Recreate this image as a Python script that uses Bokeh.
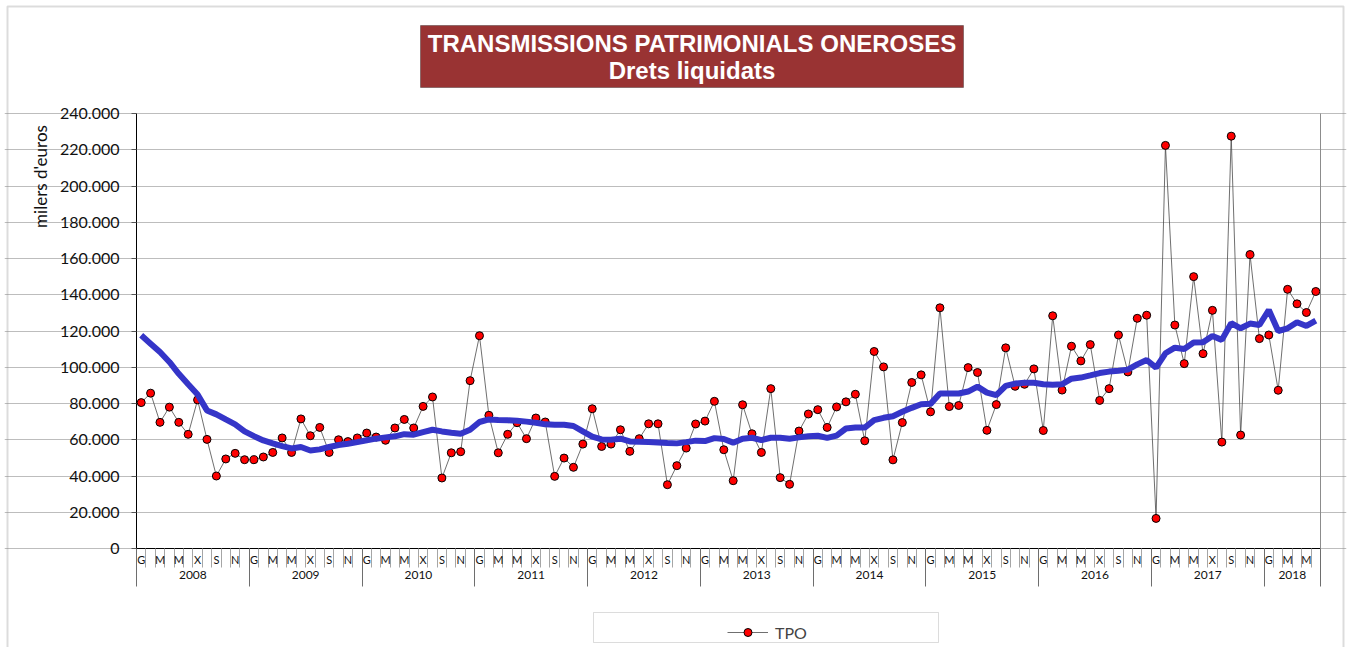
import math
from bokeh.plotting import figure
from bokeh.models import (Range1d, LinearAxis, FixedTicker, Label, BoxAnnotation,
                          Legend, LegendItem, ColumnDataSource, Grid)
from bokeh.embed import file_html
from bokeh.resources import INLINE

# ---------------- data (milers d'euros, read in thousands) ----------------
years = ["2008", "2009", "2010", "2011", "2012", "2013", "2014", "2015", "2016", "2017", "2018"]
month_labels = ["G", "", "M", "", "M", "", "X", "", "S", "", "N", ""]

tpo_k = [
    80.5, 85.7, 69.6, 78.0, 69.6, 63.0, 82.0, 60.2, 40.0, 49.4, 52.5, 49.0,      # 2008
    49.0, 50.5, 53.0, 61.0, 53.0, 71.5, 62.2, 66.8, 53.0, 60.0, 59.0, 61.0,      # 2009
    63.7, 61.5, 59.7, 66.5, 71.2, 66.5, 78.4, 83.6, 38.9, 52.8, 53.4, 92.6,      # 2010
    117.4, 73.5, 52.8, 63.0, 69.4, 60.6, 72.0, 69.8, 39.8, 49.9, 44.8, 57.6,     # 2011
    77.1, 56.3, 57.6, 65.5, 53.6, 60.6, 68.8, 68.8, 35.2, 45.7, 55.4, 68.7,      # 2012
    70.3, 81.2, 54.5, 37.4, 79.3, 63.3, 53.0, 88.2, 39.1, 35.4, 64.8, 74.2,      # 2013
    76.6, 66.8, 78.1, 80.9, 85.1, 59.4, 108.7, 100.2, 48.9, 69.5, 91.6, 95.8,    # 2014
    75.4, 132.8, 78.3, 78.9, 99.8, 97.1, 65.2, 79.4, 110.7, 89.5, 90.6, 99.1,    # 2015
    65.1, 128.4, 87.4, 111.6, 103.5, 112.5, 81.7, 88.2, 117.8, 97.4, 127.0, 128.7,  # 2016
    16.6, 222.4, 123.3, 102.0, 150.0, 107.5, 131.4, 58.7, 227.5, 62.6, 162.2, 115.8,  # 2017
    117.8, 87.3, 143.0, 135.0, 130.2, 141.8,                                     # 2018
]

trend_k = [
    117.6, 113.0, 108.4, 102.9, 96.4, 90.6, 85.0, 76.2, 74.0, 71.2, 68.5, 64.6,
    62.0, 59.6, 58.0, 56.5, 55.2, 56.0, 54.1, 54.7, 56.0, 57.1, 57.8, 58.7,
    59.7, 60.6, 61.3, 61.9, 63.1, 62.8, 64.2, 65.5, 64.6, 63.9, 63.3, 65.5,
    69.8, 71.2, 70.9, 70.7, 70.5, 70.0, 69.4, 68.5, 68.3, 68.3, 67.6, 64.6,
    61.7, 60.2, 60.0, 60.6, 59.1, 58.9, 58.7, 58.5, 58.2, 58.0, 58.7, 59.5,
    59.3, 60.9, 60.4, 58.4, 60.6, 61.1, 59.8, 61.1, 61.1, 60.6, 61.3, 61.9,
    62.2, 61.0, 62.3, 66.2, 66.7, 66.7, 70.8, 72.1, 73.0, 75.4, 77.6, 79.6,
    79.8, 85.5, 85.5, 85.5, 86.6, 89.3, 86.0, 84.6, 89.7, 91.0, 91.4, 91.4,
    90.6, 90.3, 90.6, 93.7, 94.3, 95.5, 96.8, 97.6, 98.1, 98.7, 101.6, 104.0,
    99.8, 107.7, 110.8, 110.1, 113.6, 113.8, 117.3, 115.1, 124.3, 121.5, 124.1, 123.3,
    131.6, 120.0, 121.5, 124.8, 122.8, 125.7,
]

y_ticks = list(range(0, 240001, 20000))

# ---------------- layout (picture pixels) ----------------
W, H = 1350, 647
BL, BT, BR = 7, 6, 1343                 # outer chart border
PL, PR, PT, PB = 136, 1320, 113, 548    # plot area

n = len(tpo_k)
xs = list(range(n))
X0, X1 = -0.5, n - 0.5
Y0, Y1 = 0, 240000
kx = (X1 - X0) / (PR - PL)
ky = (Y1 - Y0) / (PB - PT)


def dx(px):  # picture x pixel -> data x
    return X0 + (px - PL) * kx


def dy(py):  # picture y pixel -> data y
    return Y0 + (PB - py) * ky


FL, FT, FR = BL - 3, BT - 3, BR + 3     # frame slightly outside the border
p = figure(width=W, height=H,
           x_range=Range1d(dx(FL), dx(FR)), y_range=Range1d(dy(H), dy(FT)),
           x_axis_type=None, y_axis_type=None, output_backend="svg", toolbar_location=None,
           min_border_left=FL, min_border_top=FT, min_border_right=W - FR, min_border_bottom=0)
p.outline_line_color = None
p.background_fill_color = "white"
p.border_fill_color = "white"

# outer chart border (open at the bottom, as in the original)
p.add_layout(BoxAnnotation(left=dx(BL), right=dx(BR), top=dy(BT), bottom=dy(H + 20),
                           fill_alpha=0, line_color="#8c8c8c", line_width=2))

# y axis
yaxis = LinearAxis(ticker=FixedTicker(ticks=y_ticks), fixed_location=X0, bounds=(Y0, Y1),
                   major_label_overrides={v: f"{v:,}".replace(",", ".") for v in y_ticks},
                   major_label_text_font="Lato", major_label_text_font_size="16px",
                   major_label_text_color="#111111", axis_line_color="black",
                   major_tick_out=5, major_tick_in=0, major_tick_line_color="#555555",
                   minor_tick_line_color=None, minor_tick_out=0, minor_tick_in=0,
                   major_label_standoff=12)
p.add_layout(yaxis, "left")

# right border of the plot area
raxis = LinearAxis(ticker=FixedTicker(ticks=[]), fixed_location=X1, bounds=(Y0, Y1),
                   axis_line_color="#8c8c8c", major_tick_line_color=None,
                   minor_tick_line_color=None, major_label_text_font_size="0px")
p.add_layout(raxis, "right")

# horizontal grid
grid = Grid(dimension=1, ticker=FixedTicker(ticks=y_ticks), bounds=(X0, X1),
            grid_line_color="#bdbdbd")
p.add_layout(grid)

# x axis: month separators (with the black axis line)
month_bounds = [i - 0.5 for i in range(n + 1)]
month_sep = LinearAxis(
    ticker=FixedTicker(ticks=month_bounds), fixed_location=Y0, bounds=(X0, X1),
    major_label_overrides={b: "" for b in month_bounds}, major_label_text_font_size="0px",
    major_tick_out=19, major_tick_in=0, major_tick_line_color="#a6a6a6",
    minor_tick_line_color=None, minor_tick_out=0, minor_tick_in=0,
    axis_line_color="black")
p.add_layout(month_sep, "below")

# x axis: year separators
bounds = [12 * k for k in range(len(years))] + [n]
year_bounds = [b - 0.5 for b in bounds]
year_sep = LinearAxis(
    ticker=FixedTicker(ticks=year_bounds), fixed_location=Y0, bounds=(X0, X1),
    major_label_overrides={b: "" for b in year_bounds}, major_label_text_font_size="0px",
    major_tick_out=38, major_tick_in=0, major_tick_line_color="#6e6e6e",
    minor_tick_line_color=None, minor_tick_out=0, minor_tick_in=0,
    axis_line_color=None)
p.add_layout(year_sep, "below")

# x axis: month labels
month_axis = LinearAxis(
    ticker=FixedTicker(ticks=xs), fixed_location=Y0, bounds=(X0, X1),
    major_label_overrides={i: month_labels[i % 12] for i in xs},
    major_tick_line_color=None, major_tick_out=0, major_tick_in=0,
    minor_tick_line_color=None, minor_tick_out=0, minor_tick_in=0,
    axis_line_color=None, major_label_standoff=4,
    major_label_text_font="Lato", major_label_text_font_size="11px",
    major_label_text_color="#111111")
p.add_layout(month_axis, "below")

# x axis: year labels
centers = [(bounds[k] + bounds[k + 1] - 1) / 2 for k in range(len(years))]
year_axis = LinearAxis(
    ticker=FixedTicker(ticks=centers), fixed_location=Y0, bounds=(X0, X1),
    major_label_overrides={c: y for c, y in zip(centers, years)},
    major_tick_line_color=None, major_tick_out=0, major_tick_in=0,
    minor_tick_line_color=None, minor_tick_out=0, minor_tick_in=0,
    axis_line_color=None, major_label_standoff=22,
    major_label_text_font="Lato", major_label_text_font_size="12px",
    major_label_text_color="#111111")
p.add_layout(year_axis, "below")

# data
src = ColumnDataSource(dict(x=xs, tpo=[v * 1000 for v in tpo_k], trend=[v * 1000 for v in trend_k]))
line_r = p.line("x", "tpo", source=src, line_color="#4a4a4a", line_width=0.8)
pts_r = p.scatter("x", "tpo", source=src, size=8, fill_color="#ff0000",
                  line_color="black", line_width=1)
trend_r = p.line("x", "trend", source=src, line_color="#3535c8", line_width=6)

# title box
p.add_layout(BoxAnnotation(left=dx(420), right=dx(963), top=dy(25), bottom=dy(87),
                           fill_color="#993333", fill_alpha=1.0,
                           line_color="black", line_width=1))
p.add_layout(Label(x=dx(691.5), y=dy(43), text="TRANSMISSIONS PATRIMONIALS ONEROSES",
                   text_align="center", text_baseline="middle", text_color="white",
                   text_font="Liberation Sans", text_font_style="bold", text_font_size="24px"))
p.add_layout(Label(x=dx(691.5), y=dy(70), text="Drets liquidats",
                   text_align="center", text_baseline="middle", text_color="white",
                   text_font="Liberation Sans", text_font_style="bold", text_font_size="24px"))

# y-axis title
p.add_layout(Label(x=dx(40), y=dy(176), text="milers d'euros", angle=math.pi / 2,
                   text_align="center", text_baseline="middle", text_color="#111111",
                   text_font="Lato", text_font_size="17px"))

# legend
p.add_layout(BoxAnnotation(left=dx(593), right=dx(938), top=dy(612), bottom=dy(642),
                           fill_color="white", fill_alpha=1.0,
                           line_color="#8c8c8c", line_width=1))
legend = Legend(items=[LegendItem(label="TPO", renderers=[line_r, pts_r])],
                location=(732 - FL - 5, H - 642), padding=5, margin=0,
                border_line_color=None, background_fill_alpha=0,
                glyph_width=41, glyph_height=20, label_standoff=7,
                label_text_font="Lato", label_text_font_size="16px")
p.add_layout(legend)

open("out.html", "w").write(file_html(p, INLINE))
